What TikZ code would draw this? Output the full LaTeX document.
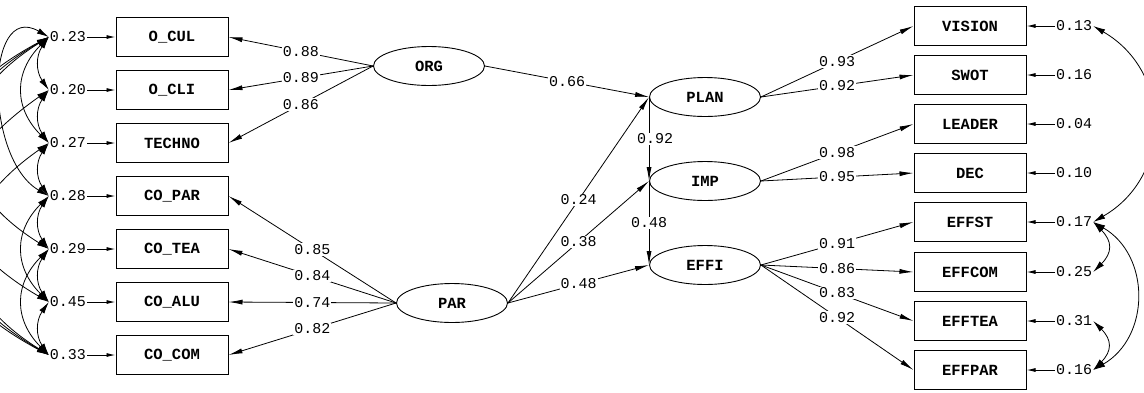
\documentclass[tikz,border=0pt]{standalone}
\usepackage{fontspec}
\setmonofont{Liberation Mono}
\usetikzlibrary{arrows.meta,shapes.geometric}
\begin{document}
\begin{tikzpicture}[x=1pt,y=-1pt,
  every node/.style={font=\ttfamily\fontsize{15}{17}\selectfont},
  obs/.style={draw, line width=1pt, minimum width=112pt, minimum height=39pt, inner sep=0pt, font=\ttfamily\bfseries\fontsize{15.5}{17}\selectfont},
  lat/.style={draw, ellipse, line width=0.9pt, minimum width=111pt, minimum height=39pt, inner sep=0pt, font=\ttfamily\bfseries\fontsize{15.5}{17}\selectfont},
  err/.style={inner sep=1pt},
  pth/.style={-{Latex[length=14pt,width=5pt]}, line width=0.8pt},
  lbl/.style={fill=white, inner sep=1pt, pos=0.5},
  eline/.style={-{Latex[length=9pt,width=4pt]}, line width=0.9pt},
  cov/.style={{Latex[length=12pt,width=6pt]}-{Latex[length=12pt,width=6pt]}, line width=0.8pt},
]
\useasboundingbox (0,0) rectangle (1144,392);
\clip (0,0) rectangle (1144,392);

% left observed
\node[obs] (o1) at (172,37) {O\_CUL};
\node[obs] (o2) at (172,90) {O\_CLI};
\node[obs] (o3) at (172,143) {TECHNO};
\node[obs] (o4) at (172,196) {CO\_PAR};
\node[obs] (o5) at (172,249) {CO\_TEA};
\node[obs] (o6) at (172,302) {CO\_ALU};
\node[obs] (o7) at (172,355) {CO\_COM};
\node[err] (e1) at (68,37) {0.23};
\node[err] (e2) at (68,90) {0.20};
\node[err] (e3) at (68,143) {0.27};
\node[err] (e4) at (68,196) {0.28};
\node[err] (e5) at (68,249) {0.29};
\node[err] (e6) at (68,302) {0.45};
\node[err] (e7) at (68,355) {0.33};
\foreach \i in {1,...,7} {\draw[eline] (e\i.east) -- (o\i.west);}

% right observed
\node[obs] (v1) at (970,26) {VISION};
\node[obs] (v2) at (970,75) {SWOT};
\node[obs] (v3) at (970,124) {LEADER};
\node[obs] (v4) at (970,173) {DEC};
\node[obs] (v5) at (970,222) {EFFST};
\node[obs] (v6) at (970,272) {EFFCOM};
\node[obs] (v7) at (970,321) {EFFTEA};
\node[obs] (v8) at (970,370) {EFFPAR};
\node[err] (r1) at (1074,26) {0.13};
\node[err] (r2) at (1074,75) {0.16};
\node[err] (r3) at (1074,124) {0.04};
\node[err] (r4) at (1074,173) {0.10};
\node[err] (r5) at (1074,222) {0.17};
\node[err] (r6) at (1074,272) {0.25};
\node[err] (r7) at (1074,321) {0.31};
\node[err] (r8) at (1074,370) {0.16};
\foreach \i in {1,...,8} {\draw[eline] (r\i.west) -- (v\i.east);}

% latent
\node[lat] (ORG) at (429,66) {ORG};
\node[lat] (PAR) at (452,303) {PAR};
\node[lat] (PLAN) at (705,97) {PLAN};
\node[lat] (IMP) at (705,181) {IMP};
\node[lat] (EFFI) at (705,265) {EFFI};

% loadings
\draw[pth] (ORG.west) -- node[lbl]{0.88} (o1.east);
\draw[pth] (ORG.west) -- node[lbl]{0.89} (o2.east);
\draw[pth] (ORG.west) -- node[lbl]{0.86} (o3.east);
\draw[pth] (PAR.west) -- node[lbl]{0.85} (o4.east);
\draw[pth] (PAR.west) -- node[lbl]{0.84} (o5.east);
\draw[pth] (PAR.west) -- node[lbl]{0.74} (o6.east);
\draw[pth] (PAR.west) -- node[lbl]{0.82} (o7.east);
\draw[pth] (PLAN.east) -- node[lbl]{0.93} (v1.west);
\draw[pth] (PLAN.east) -- node[lbl]{0.92} (v2.west);
\draw[pth] (IMP.east) -- node[lbl]{0.98} (v3.west);
\draw[pth] (IMP.east) -- node[lbl]{0.95} (v4.west);
\draw[pth] (EFFI.east) -- node[lbl]{0.91} (v5.west);
\draw[pth] (EFFI.east) -- node[lbl]{0.86} (v6.west);
\draw[pth] (EFFI.east) -- node[lbl]{0.83} (v7.west);
\draw[pth] (EFFI.east) -- node[lbl]{0.92} (v8.west);

% structural
\draw[pth] (ORG.east) -- node[lbl]{0.66} (PLAN.west);
\draw[pth] (PAR.east) -- node[lbl]{0.24} (PLAN.west);
\draw[pth] (PAR.east) -- node[lbl]{0.38} (IMP.west);
\draw[pth] (PAR.east) -- node[lbl]{0.48} (EFFI.west);
\draw[pth] (PLAN.west) -- node[lbl,xshift=6pt]{0.92} (IMP.west);
\draw[pth] (IMP.west) -- node[lbl]{0.48} (EFFI.west);

% left covariances
\draw[cov] (e1.west) to[out=235,in=125,looseness=1.1] (e2.west);
\draw[cov] (e2.west) to[out=235,in=125,looseness=1.1] (e3.west);
\draw[cov] (e3.west) to[out=235,in=125,looseness=1.1] (e4.west);
\draw[cov] (e4.west) to[out=235,in=125,looseness=1.1] (e5.west);
\draw[cov] (e5.west) to[out=235,in=125,looseness=1.1] (e6.west);
\draw[cov] (e6.west) to[out=235,in=125,looseness=1.1] (e7.west);
\draw[cov] (e1.west) to[out=225,in=135,looseness=1.2] (e3.west);
\draw[cov] (e4.west) to[out=225,in=135,looseness=1.2] (e6.west);
\draw[cov] (e5.west) to[out=225,in=135,looseness=1.2] (e7.west);
\draw[cov] (e1.west) to[out=212,in=148,looseness=1.5] (e5.west);
\draw[cov] (e1.west) to[out=210,in=150,looseness=1.5] (e6.west);
\draw[cov] (e1.west) to[out=208,in=152,looseness=1.5] (e7.west);
\draw[cov] (e2.west) to[out=215,in=150,looseness=1.5] (e7.west);
\draw[cov] (e3.west) to[out=215,in=148,looseness=1.5] (e7.west);
\draw[cov] (e4.west) to[out=150,in=150,looseness=1.2] (e1.west);

% right covariances
\draw[cov] (r1.east) to[out=-30,in=30,looseness=1.2] (r5.east);
\draw[cov] (r5.east) to[out=-45,in=45,looseness=1.4] (r6.east);
\draw[cov] (r5.east) to[out=-30,in=30,looseness=1.15] (r8.east);
\draw[cov] (r7.east) to[out=-45,in=45,looseness=1.4] (r8.east);
\end{tikzpicture}
\end{document}
